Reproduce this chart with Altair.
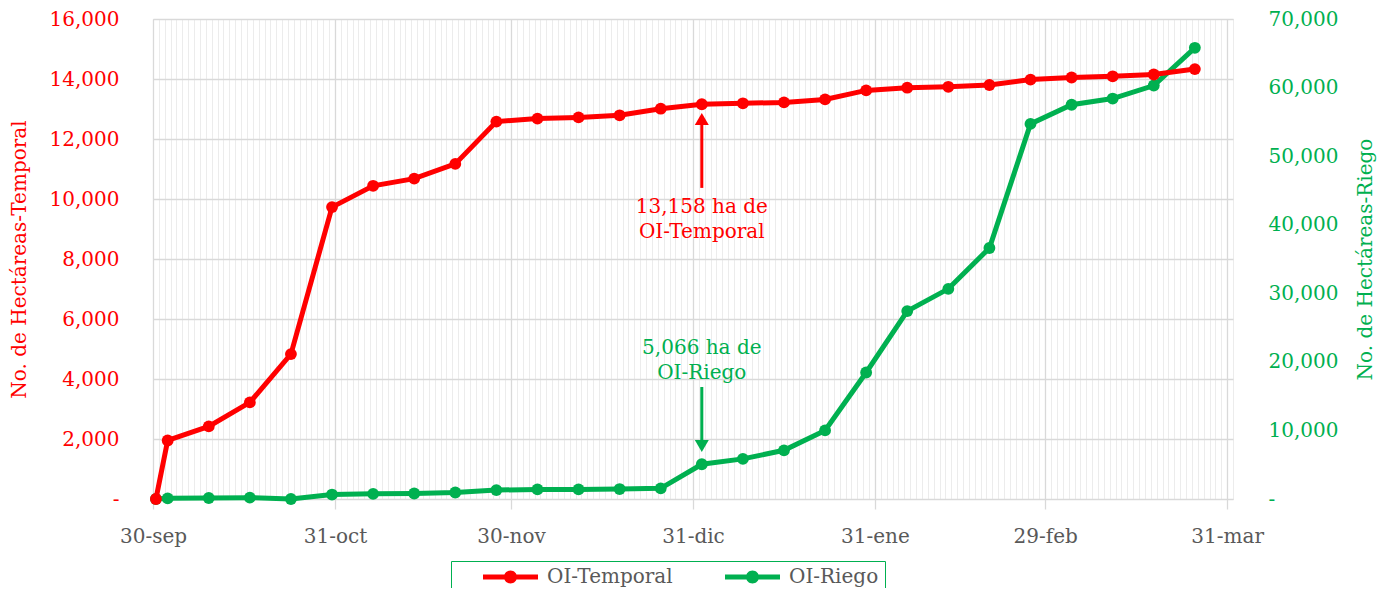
import altair as alt
import pandas as pd

# ---------------- data ----------------
dates = ["2023-09-30", "2023-10-02", "2023-10-09", "2023-10-16", "2023-10-23",
         "2023-10-30", "2023-11-06", "2023-11-13", "2023-11-20", "2023-11-27",
         "2023-12-04", "2023-12-11", "2023-12-18", "2023-12-25", "2024-01-01",
         "2024-01-08", "2024-01-15", "2024-01-22", "2024-01-29", "2024-02-05",
         "2024-02-12", "2024-02-19", "2024-02-26", "2024-03-04", "2024-03-11",
         "2024-03-18", "2024-03-25"]
temporal = [0, 1950, 2420, 3220, 4830, 9730, 10440, 10680, 11170, 12580,
            12680, 12720, 12790, 13010, 13158, 13190, 13220, 13320, 13620, 13710,
            13740, 13800, 13980, 14050, 14090, 14150, 14330]
riego = [0, 100, 150, 200, 0, 650, 750, 800, 950, 1300,
         1400, 1400, 1450, 1550, 5066, 5850, 7100, 10000, 18450, 27400,
         30650, 36600, 54700, 57500, 58400, 60300, 65800]
series_names = ["OI-Temporal", "OI-Riego"]
month_ticks = ["2023-09-30", "2023-10-31", "2023-11-30", "2023-12-31",
               "2024-01-31", "2024-02-29", "2024-03-31"]
month_abbr = ["ene", "feb", "mar", "abr", "may", "jun", "jul", "ago", "sep", "oct", "nov", "dic"]

ann_date = "2024-01-01"
ann_t_text = "13,158 ha de\nOI-Temporal"
ann_r_text = "5,066 ha de\nOI-Riego"

# ---------------- styling ----------------
FONT = "DejaVu Serif"
RED = "#ff0000"
GREEN = "#00b050"
GRAY = "#595959"
GRID = "#d9d9d9"
MINOR = "#ececec"


def ms(s):
    return int(pd.Timestamp(s, tz="UTC").value // 10**6)


major_ms = [ms(d) for d in month_ticks]
minor_ms = [int(d.value // 10**6) for d in pd.date_range("2023-09-30", "2024-04-01", freq="D", tz="UTC")]
minor_ms = [v for v in minor_ms if v not in major_ms]
x_domain = [ms("2023-09-30"), ms("2024-04-01")]

df_t = pd.DataFrame({"date": dates, "value": temporal, "series": series_names[0]})
df_r = pd.DataFrame({"date": dates, "value": riego, "series": series_names[1]})

ann_t = pd.DataFrame({"date": [ann_date], "text": [ann_t_text],
                      "ty": [9750], "r1": [10370], "r2": [12600], "head": [12667]})
ann_r = pd.DataFrame({"date": [ann_date], "text": [ann_r_text],
                      "ty": [22000], "r1": [16330], "r2": [7875], "head": [7730]})

month_list = "[" + ",".join("'%s'" % m for m in month_abbr) + "]"
ax_major = alt.Axis(values=major_ms, orient="bottom",
                    labelExpr="utcFormat(datum.value, '%d') + '-' + " + month_list + "[utcmonth(datum.value)]",
                    grid=True, gridColor=GRID, gridWidth=1.3,
                    ticks=True, tickColor=GRID, tickSize=10, tickWidth=1.3,
                    domain=False, labelFont=FONT, labelFontSize=20, labelColor=GRAY,
                    labelPadding=17, labelFlush=False, labelOverlap=False)
ax_minor = alt.Axis(values=minor_ms, orient="bottom", grid=True, gridColor=MINOR, gridWidth=1,
                    ticks=False, labels=False, domain=False)


def xenc(axis):
    return alt.X("date:T", timeUnit="utcyearmonthdate", bandPosition=0.5,
                 scale=alt.Scale(type="utc", domain=x_domain), axis=axis, title=None)


NB = "\u00a0"
ax_left = alt.Axis(values=list(range(0, 16001, 2000)), orient="left",
                   labelExpr="datum.value == 0 ? '-" + NB + NB + "' : format(datum.value, ',')",
                   grid=True, gridColor=GRID, gridWidth=1.3, ticks=False, domain=False,
                   labelFont=FONT, labelFontSize=20, labelColor=RED, labelPadding=34, labelFlush=False,
                   titleFont=FONT, titleFontSize=20, titleColor=RED, titleFontWeight="normal",
                   titlePadding=20)
ax_right = alt.Axis(values=list(range(0, 70001, 10000)), orient="right",
                    labelExpr="datum.value == 0 ? '-' : format(datum.value, ',')",
                    grid=False, ticks=False, domain=False,
                    labelFont=FONT, labelFontSize=20, labelColor=GREEN, labelPadding=35, labelFlush=False,
                    titleFont=FONT, titleFontSize=20, titleColor=GREEN, titleFontWeight="normal",
                    titleAngle=270, titleBaseline="bottom", titlePadding=38)


def yL(field):
    return alt.Y(field + ":Q", scale=alt.Scale(domain=[0, 16000], nice=False),
                 axis=ax_left, title="No. de Hectáreas-Temporal")


def yR(field):
    return alt.Y(field + ":Q", scale=alt.Scale(domain=[0, 70000], nice=False),
                 axis=ax_right, title="No. de Hectáreas-Riego")


SYM = "M-2.75,-0.25H2.75V0.25H-2.75Z M0.65,0A0.65,0.65 0 1,1 -0.65,0A0.65,0.65 0 1,1 0.65,0Z"
legend = alt.Legend(title=None, orient="none", legendX=298, legendY=542, direction="horizontal",
                    symbolType=SYM, symbolSize=400, symbolStrokeWidth=0, symbolOpacity=1,
                    symbolOffset=43.5, labelOffset=26.5, padding=6, columnPadding=26,
                    strokeColor=GREEN, labelFont=FONT, labelFontSize=20, labelColor=GRAY)
fill_enc = alt.Fill("series:N", scale=alt.Scale(domain=series_names, range=[RED, GREEN]), legend=legend)

# ---------------- left group (OI-Temporal) ----------------
t_line = alt.Chart(df_t).mark_line(color=RED, strokeWidth=5).encode(x=xenc(ax_major), y=yL("value"))
t_pts = alt.Chart(df_t).mark_point(filled=True, size=140, opacity=1, strokeWidth=0).encode(
    x=xenc(ax_major), y=yL("value"), fill=fill_enc)
t_txt = alt.Chart(ann_t).mark_text(color=RED, font=FONT, fontSize=20, lineBreak="\n", lineHeight=25,
                                   align="center", baseline="middle").encode(
    x=xenc(ax_major), y=yL("ty"), text="text:N")
t_rule = alt.Chart(ann_t).mark_rule(color=RED, strokeWidth=3).encode(
    x=xenc(ax_major), y=yL("r1"), y2="r2:Q")
t_head = alt.Chart(ann_t).mark_point(shape="triangle-up", filled=True, size=196, color=RED,
                                     opacity=1, strokeWidth=0).encode(x=xenc(ax_major), y=yL("head"))
left = alt.layer(t_line, t_pts, t_txt, t_rule, t_head)

# ---------------- right group (OI-Riego) ----------------
r_line = alt.Chart(df_r).mark_line(color=GREEN, strokeWidth=5).encode(x=xenc(ax_minor), y=yR("value"))
r_pts = alt.Chart(df_r).mark_point(filled=True, size=140, opacity=1, strokeWidth=0).encode(
    x=xenc(ax_minor), y=yR("value"), fill=fill_enc)
r_txt = alt.Chart(ann_r).mark_text(color=GREEN, font=FONT, fontSize=20, lineBreak="\n", lineHeight=25,
                                   align="center", baseline="middle").encode(
    x=xenc(ax_minor), y=yR("ty"), text="text:N")
r_rule = alt.Chart(ann_r).mark_rule(color=GREEN, strokeWidth=3).encode(
    x=xenc(ax_minor), y=yR("r1"), y2="r2:Q")
r_head = alt.Chart(ann_r).mark_point(shape="triangle-down", filled=True, size=196, color=GREEN,
                                     opacity=1, strokeWidth=0).encode(x=xenc(ax_minor), y=yR("head"))
right = alt.layer(r_line, r_pts, r_txt, r_rule, r_head)

chart = alt.layer(right, left).resolve_scale(y="independent").resolve_axis(
    x="independent", y="independent").properties(
    width=1080, height=480,
    autosize=alt.AutoSizeParams(type="none"),
    padding={"left": 145, "top": 11, "right": 145, "bottom": 89},
).configure_view(stroke=GRID, strokeWidth=1.3).configure(font=FONT)

chart.save("out.html", embed_options={"renderer": "svg", "actions": False})
